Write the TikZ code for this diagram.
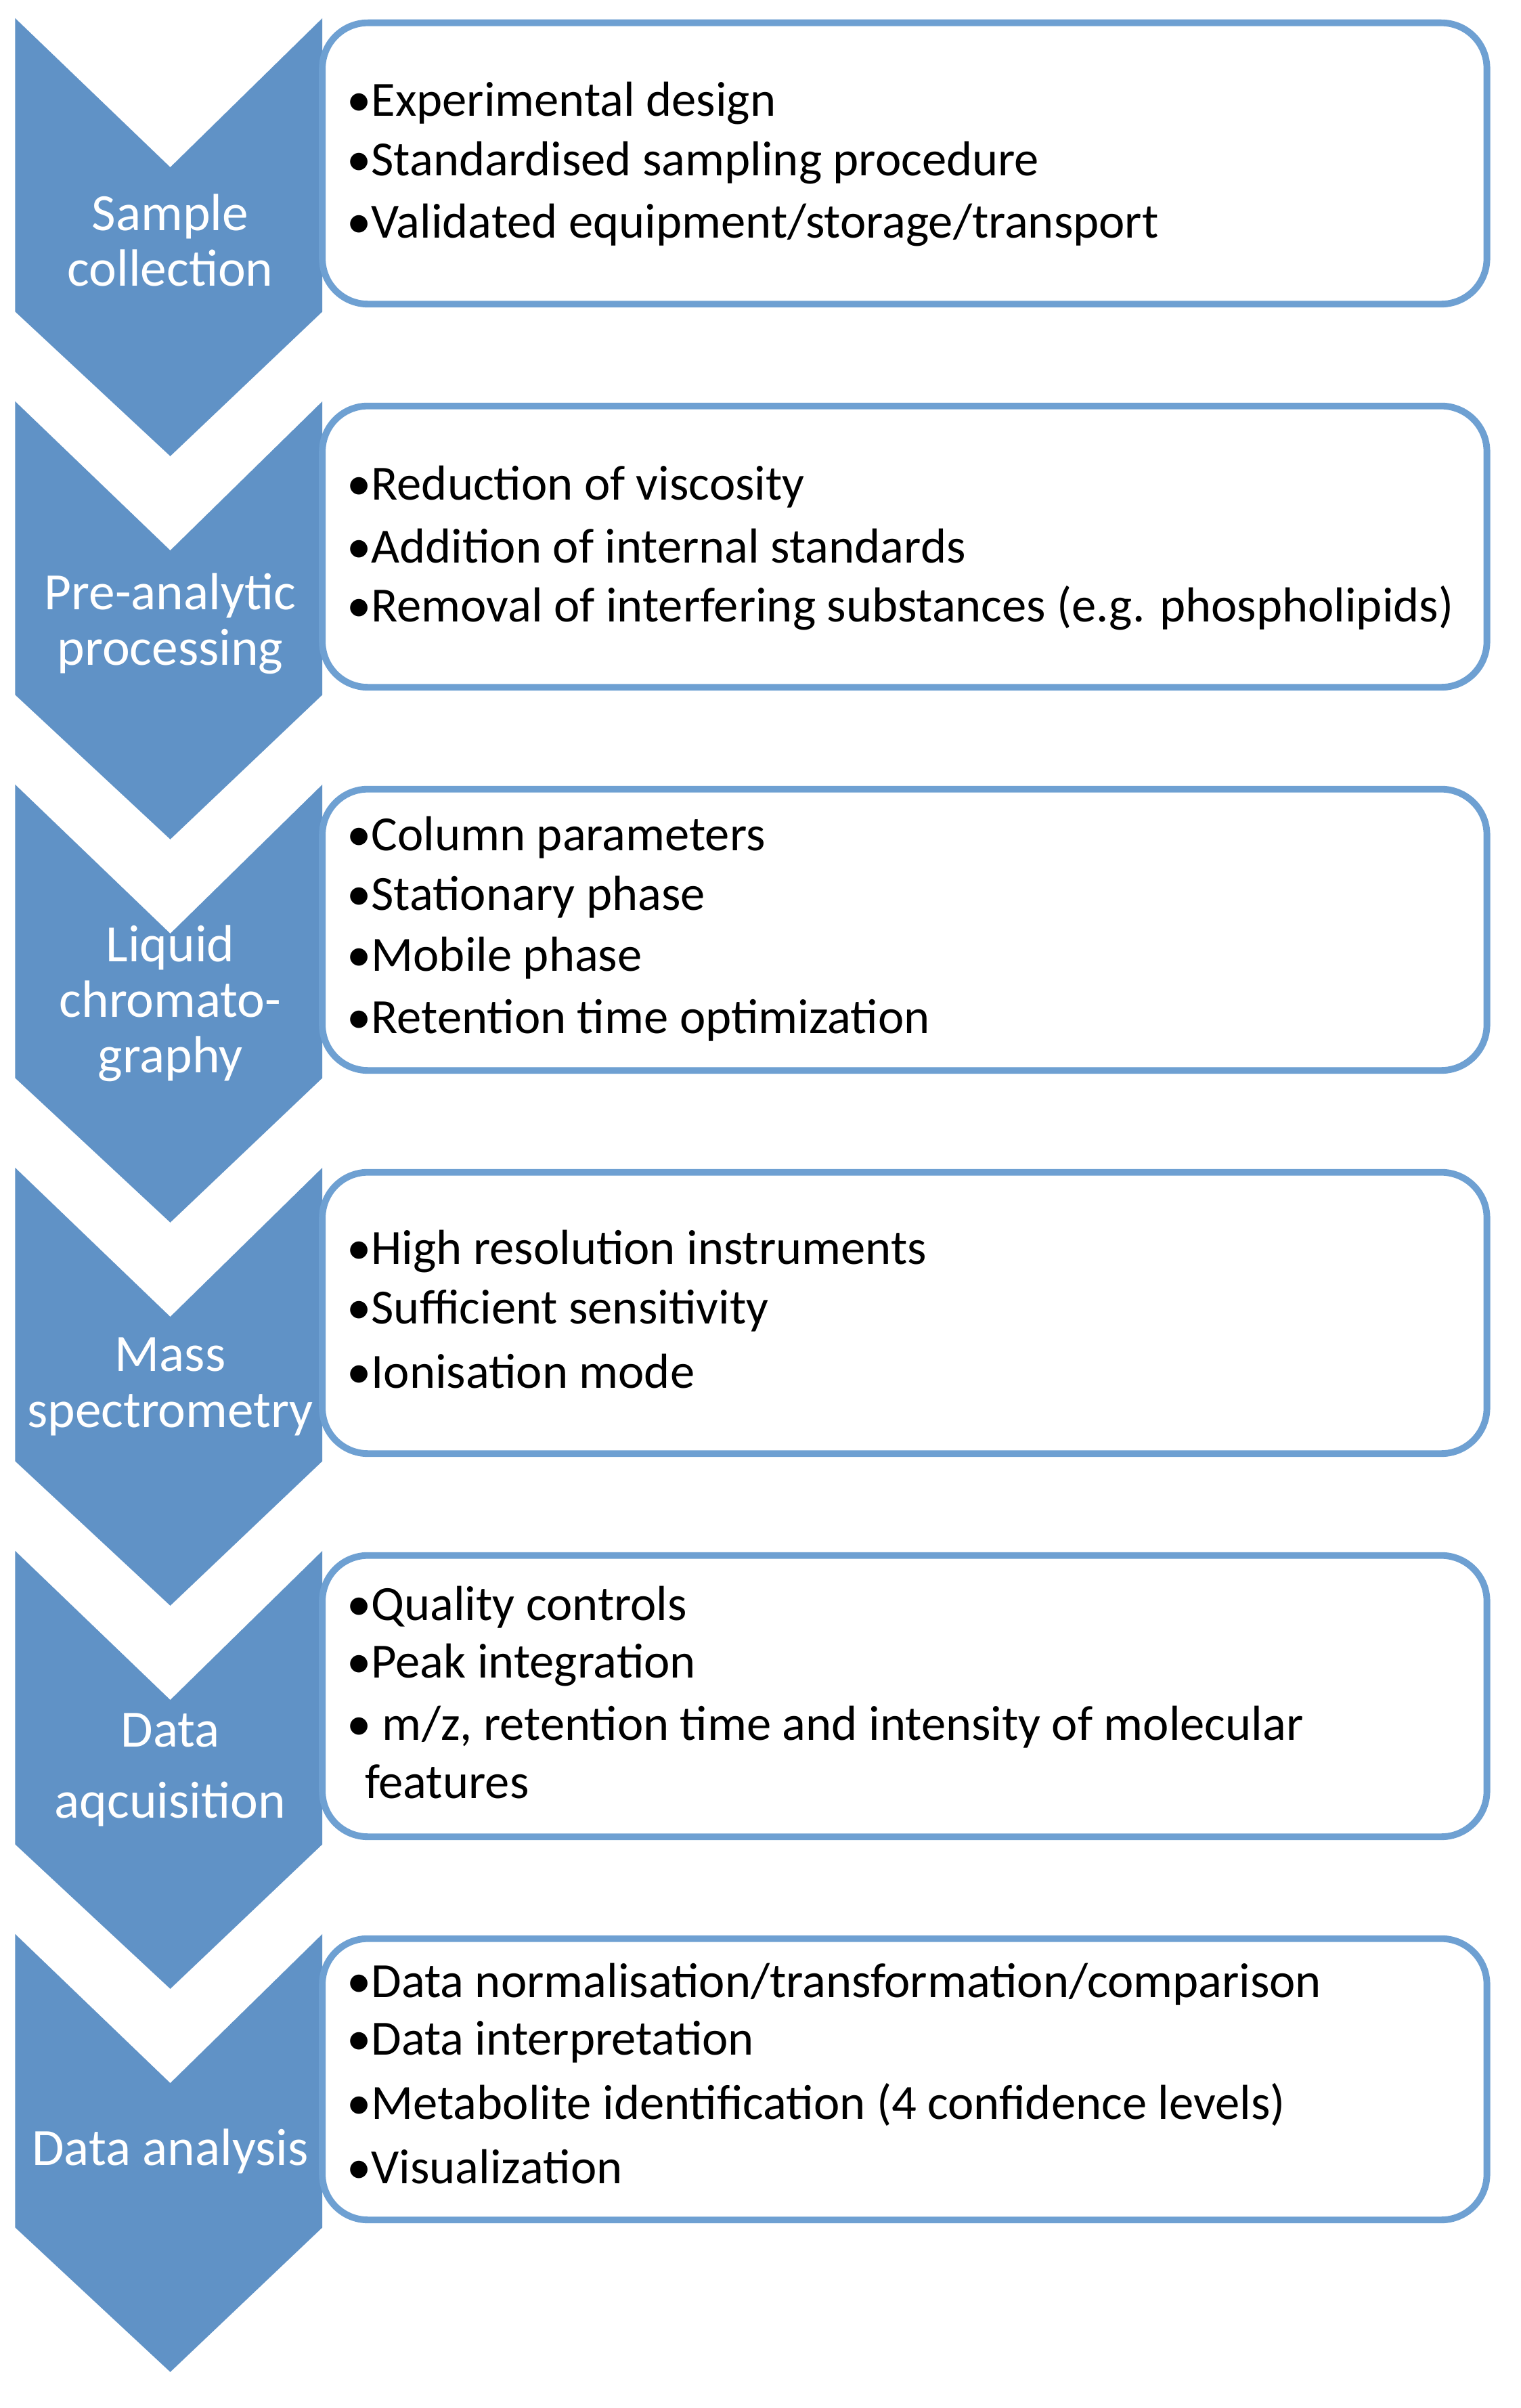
\documentclass[tikz,border=0pt]{standalone}
\usepackage{fontspec}
\setmainfont{Carlito}
\begin{document}
\begin{tikzpicture}[x=0.5mm,y=-0.5mm,
  chev/.style={fill=chevblue,draw=none},
  box/.style={draw=boxblue,line width=2.2mm,rounded corners=15mm,fill=white},
  ct/.style={text=white,font=\fontsize{49}{52}\selectfont,align=center},
  bt/.style={anchor=west,font=\fontsize{46}{50}\selectfont,inner sep=0pt}]
\definecolor{chevblue}{RGB}{96,146,198}
\definecolor{boxblue}{RGB}{110,160,210}
\useasboundingbox (0,0) rectangle (1000,1583.7);
\fill[white] (0,0) rectangle (1000,1583.7);
\foreach \k in {0,...,5}{
  \pgfmathsetmacro{\t}{12+252*\k}
  \fill[chevblue] (10,\t) -- (112,\t+98) -- (212,\t) -- (212,\t+193) -- (112,\t+288) -- (10,\t+193) -- cycle;
  \draw[box] (212,\t+3) rectangle (978,\t+188);
}
\node[ct] (c1) at (112,158) {Sample\\collection};
\node[ct] (c2) at (112,410) {Pre-analytic\\processing};
\node[ct] (c3) at (112,660) {Liquid\\chromato-\\graphy};
\node[ct] (c4) at (112,912) {Mass\\spectrometry};
\node[ct,font=\fontsize{49}{66}\selectfont] (c5) at (112,1164) {Data\\aqcuisition};
\node[ct] (c6) at (112,1415) {Data analysis};
\node[bt] (a1) at (228,68) {•Experimental design};
\node[bt] (a2) at (228,107) {•Standardised sampling procedure};
\node[bt] (a3) at (228,148) {•Validated equipment/storage/transport};
\node[bt] (b1) at (228,320) {•Reduction of viscosity};
\node[bt] (b2) at (228,359) {•Addition of internal standards};
\node[bt] (b3) at (228,400) {•Removal of interfering substances (e.g. phospholipids)};
\node[bt] (d1) at (228,551) {•Column parameters};
\node[bt] (d2) at (228,590) {•Stationary phase};
\node[bt] (d3) at (228,630) {•Mobile phase};
\node[bt] (d4) at (228,671) {•Retention time optimization};
\node[bt] (e1) at (228,823) {•High resolution instruments};
\node[bt] (e2) at (228,862) {•Sufficient sensitivity};
\node[bt] (e3) at (228,902) {•Ionisation mode};
\node[bt] (f1) at (228,1057) {•Quality controls};
\node[bt] (f2) at (228,1095) {•Peak integration};
\node[bt] (f3) at (228,1136) {• m/z, retention time and intensity of molecular};
\node[bt] (f4) at (240,1172) {features};
\node[bt] (g1) at (228,1305) {•Data normalisation/transformation/comparison};
\node[bt] (g2) at (228,1343) {•Data interpretation};
\node[bt] (g3) at (228,1384) {•Metabolite identification (4 confidence levels)};
\node[bt] (g4) at (228,1425) {•Visualization};
\end{tikzpicture}
\end{document}
